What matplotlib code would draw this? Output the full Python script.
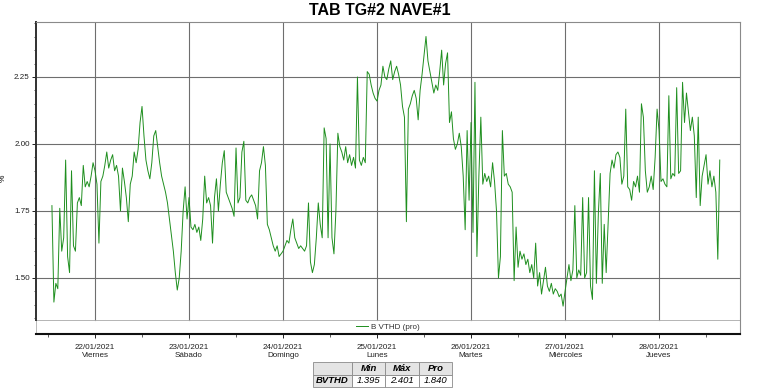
import matplotlib
matplotlib.use("Agg")
import matplotlib.pyplot as plt
import matplotlib.dates as mdates
from matplotlib.ticker import FixedLocator
import pandas as pd

plt.rcParams["font.family"] = ["Liberation Sans", "DejaVu Sans"]

# B VTHD (pro), 30 min averages
start = "2021-01-21 13:00"
vthd_21 = [1.77, 1.41, 1.48, 1.46, 1.76, 1.60, 1.65, 1.94, 1.58, 1.52, 1.90,
           1.62, 1.60, 1.78, 1.80, 1.77, 1.92, 1.84, 1.86, 1.84, 1.88, 1.93]
vthd_22 = [1.90, 1.85, 1.63, 1.86, 1.88, 1.92, 1.97, 1.91, 1.94, 1.96,
           1.90, 1.92, 1.88, 1.75, 1.91, 1.86, 1.80, 1.71, 1.85, 1.88,
           1.97, 1.93, 1.98, 2.08, 2.14, 2.03, 1.94, 1.90, 1.87, 1.93,
           2.03, 2.05, 1.99, 1.93, 1.88, 1.85, 1.82, 1.78, 1.72, 1.66,
           1.60, 1.52, 1.455, 1.50, 1.60, 1.75, 1.84, 1.72]
vthd_23 = [1.80, 1.69, 1.68, 1.70, 1.67, 1.69, 1.64, 1.72, 1.88, 1.78,
           1.80, 1.77, 1.63, 1.80, 1.87, 1.75, 1.85, 1.93, 1.975, 1.82,
           1.80, 1.78, 1.76, 1.73, 1.985, 1.78, 1.80, 1.97, 2.01, 1.79,
           1.78, 1.80, 1.81, 1.79, 1.77, 1.72, 1.90, 1.93, 1.99, 1.92,
           1.70, 1.68, 1.65, 1.62, 1.60, 1.62, 1.58, 1.59]
vthd_24 = [1.60, 1.62, 1.64, 1.63, 1.68, 1.72, 1.65, 1.63, 1.61, 1.62,
           1.61, 1.60, 1.62, 1.78, 1.56, 1.52, 1.55, 1.65, 1.78, 1.70,
           1.65, 2.06, 2.02, 1.65, 2.00, 1.65, 1.59, 1.75, 2.04, 1.99,
           1.97, 1.94, 1.99, 1.93, 1.96, 1.92, 1.95, 1.91, 2.25, 1.94,
           1.92, 1.95, 1.93, 2.27, 2.26, 2.22, 2.19, 2.17]
vthd_25 = [2.16, 2.20, 2.22, 2.29, 2.25, 2.24, 2.28, 2.31, 2.24, 2.27,
           2.29, 2.26, 2.22, 2.14, 2.10, 1.71, 2.13, 2.15, 2.18, 2.20,
           2.17, 2.09, 2.20, 2.26, 2.33, 2.401, 2.31, 2.27, 2.23, 2.19,
           2.22, 2.20, 2.27, 2.35, 2.22, 2.30, 2.34, 2.08, 2.12, 2.02,
           1.98, 2.00, 2.04, 1.99, 1.88, 1.68, 2.05, 1.79]
vthd_26 = [2.08, 1.67, 2.23, 1.58, 1.88, 2.10, 1.85, 1.89, 1.86, 1.88,
           1.84, 1.93, 1.86, 1.75, 1.50, 1.58, 2.05, 1.88, 1.89, 1.85,
           1.84, 1.82, 1.49, 1.69, 1.54, 1.60, 1.57, 1.59, 1.55, 1.57,
           1.52, 1.55, 1.50, 1.63, 1.47, 1.52, 1.44, 1.49, 1.54, 1.47,
           1.45, 1.48, 1.44, 1.46, 1.45, 1.43, 1.44, 1.395]
vthd_27 = [1.45, 1.50, 1.55, 1.49, 1.53, 1.77, 1.50, 1.53, 1.51, 1.80,
           1.50, 1.52, 1.80, 1.47, 1.42, 1.90, 1.48, 1.74, 1.89, 1.48,
           1.70, 1.52, 1.70, 1.89, 1.94, 1.91, 1.96, 1.97, 1.95, 1.85,
           1.88, 2.13, 1.84, 1.83, 1.79, 1.86, 1.84, 1.88, 1.82, 2.15,
           2.10, 1.90, 1.82, 1.84, 1.88, 1.83, 1.95, 2.13]
vthd_28 = [2.05, 1.86, 1.87, 1.85, 1.84, 2.18, 1.87, 1.89, 1.88, 2.21,
           1.89, 1.90, 2.23, 2.08, 2.19, 2.12, 2.05, 2.10, 2.03, 1.80,
           2.10, 1.77, 1.88, 1.92, 1.96, 1.85, 1.90, 1.84, 1.88, 1.82,
           1.57, 1.94]

day_names = ["Viernes", "Sábado", "Domingo", "Lunes", "Martes", "Miércoles", "Jueves"]
days = pd.date_range("2021-01-22", periods=7, freq="D")
stat_cols = ["Min", "Máx", "Pro"]
stat_vals = ["1.395", "2.401", "1.840"]

values = vthd_21 + vthd_22 + vthd_23 + vthd_24 + vthd_25 + vthd_26 + vthd_27 + vthd_28
times = pd.date_range(start, periods=len(values), freq="30min")

fig = plt.figure(figsize=(7.62, 3.89), dpi=100)
ax = fig.add_axes([36 / 762, 1 - 334 / 389, 704 / 762, 312 / 389])

ax.plot(times, values, color="#1f8f1f", lw=0.7, label="B VTHD (pro)")

ax.set_xlim(pd.Timestamp("2021-01-21 08:56"), pd.Timestamp("2021-01-28 20:40"))
ymin, ymax = 1.291, 2.455
ax.set_ylim(ymin, ymax)
strip = (1.3433 - ymin) / (ymax - ymin)

# grid
ax.set_yticks([1.50, 1.75, 2.00, 2.25])
ax.set_yticklabels(["1.50", "1.75", "2.00", "2.25"])
ax.yaxis.set_minor_locator(FixedLocator([1.35, 1.40, 1.45, 1.55, 1.60, 1.65, 1.70, 1.80,
                                         1.85, 1.90, 1.95, 2.05, 2.10, 2.15, 2.20, 2.30,
                                         2.35, 2.40, 2.45]))
ax.yaxis.grid(True, color="#6e6e6e", lw=0.8)
for d in days:
    ax.axvline(d, ymin=strip, color="#6e6e6e", lw=0.8, zorder=0.5)
ax.axhline(1.3433, color="#a8a8a8", lw=0.6)

ax.xaxis.set_major_locator(FixedLocator(mdates.date2num(days)))
ax.set_xticklabels([f"{d:%d/%m/%Y}\n{n}" for d, n in zip(days, day_names)])
ax.xaxis.set_minor_locator(mdates.HourLocator(byhour=12))

ax.tick_params(axis="both", which="major", labelsize=5.8, length=3, width=0.7,
               colors="#202020")
ax.tick_params(axis="x", which="major", pad=4)
ax.tick_params(axis="y", which="major", pad=1.5)
ax.tick_params(axis="both", which="minor", length=1.8, width=0.6, color="#404040")
ax.set_ylabel("%", fontsize=6, labelpad=5)

for s in ["top", "right"]:
    ax.spines[s].set_color("#8a8a8a")
    ax.spines[s].set_linewidth(0.8)
ax.spines["left"].set_bounds(1.3433, ymax)
ax.spines["left"].set_color("#303030")
ax.spines["left"].set_linewidth(1.4)
ax.spines["bottom"].set_color("#101010")
ax.spines["bottom"].set_linewidth(1.5)
ax.plot([0, 0], [0, strip], transform=ax.transAxes, color="#b0b0b0", lw=0.6, clip_on=False)

ax.legend(loc="center", bbox_to_anchor=(0.5, strip / 2), frameon=False, fontsize=5.8,
          handlelength=1.4, handletextpad=0.4, borderpad=0, labelcolor="#303030")

fig.text(0.499, 0.972, "TAB TG#2 NAVE#1", ha="center", va="center",
         fontsize=11.5, fontweight="bold")

# summary table
tax = fig.add_axes([313 / 762, 2 / 389, 139 / 762, 25 / 389])
tax.axis("off")
tbl = tax.table(cellText=[[""] + stat_cols, ["BVTHD"] + stat_vals],
                colWidths=[39, 33, 34, 33], cellLoc="center", bbox=[0, 0, 1, 1])
tbl.auto_set_font_size(False)
for (r, c), cell in tbl.get_celld().items():
    cell.set_edgecolor("#8a8a8a")
    cell.set_linewidth(0.6)
    cell.get_text().set_fontsize(6.8)
    if r == 0 or c == 0:
        cell.set_facecolor("#e4e4e4")
        cell.get_text().set_fontweight("bold")
    cell.get_text().set_fontstyle("italic")

fig.savefig("out.png", dpi=100)
